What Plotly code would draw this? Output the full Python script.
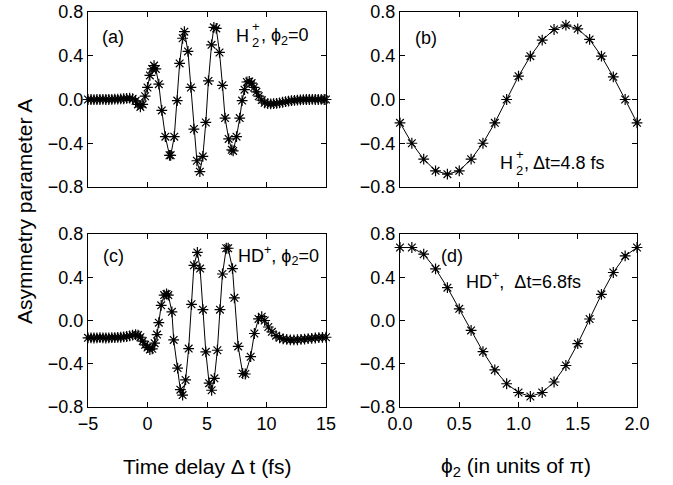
import plotly.graph_objects as go

# ---------------- data ----------------
# (a) H2+, phi2 = 0 : asymmetry vs time delay (fs)
a_t = [-5.0, -4.75, -4.5, -4.25, -4.0, -3.75, -3.5, -3.25, -3.0, -2.75, -2.5, -2.25, -2.0, -1.75, -1.5, -1.25, -1.0,
       -0.8, -0.6, -0.4, -0.2, 0.0, 0.2, 0.4, 0.55, 0.7, 0.95,
       1.2, 1.5, 1.85, 1.95, 2.25, 2.5, 2.7, 2.95, 3.1, 3.4,
       3.65, 3.9, 4.15, 4.4, 4.65, 4.9, 5.12, 5.38, 5.58, 5.78,
       6.05, 6.3, 6.52, 6.82, 7.08, 7.2, 7.48, 7.75, 7.95, 8.15,
       8.35, 8.55, 8.75, 8.95, 9.15, 9.35, 9.6, 9.85, 10.1, 10.35,
       10.6, 10.85, 11.1, 11.35, 11.6, 11.85, 12.1, 12.35, 12.6, 12.85,
       13.1, 13.35, 13.6, 13.85, 14.1, 14.35, 14.6, 14.85, 15.0]
a_A = [0.0, 0.0, -0.002, 0.0, 0.0, 0.002, 0.0, 0.0, 0.002, 0.003, 0.004, 0.005, 0.007, 0.01, 0.012, 0.008, -0.012,
       -0.045, -0.068, -0.045, 0.03, 0.11, 0.22, 0.28, 0.31, 0.28, 0.14,
       -0.10, -0.34, -0.51, -0.51, -0.34, -0.01, 0.33, 0.56, 0.62, 0.44,
       0.11, -0.27, -0.56, -0.66, -0.52, -0.21, 0.17, 0.50, 0.66, 0.65,
       0.43, 0.13, -0.17, -0.36, -0.46, -0.47, -0.34, -0.17, -0.01, 0.09,
       0.16, 0.165, 0.15, 0.11, 0.07, 0.03, -0.005, -0.03, -0.038, -0.04,
       -0.038, -0.035, -0.03, -0.025, -0.02, -0.015, -0.01, -0.008, -0.005, -0.003,
       -0.002, 0.0, 0.0, 0.002, 0.0, 0.0, 0.002, 0.0, 0.0]

# (c) HD+, phi2 = 0
c_t = [-5.0, -4.75, -4.5, -4.25, -4.0, -3.75, -3.5, -3.25, -3.0, -2.75, -2.5, -2.25, -2.0, -1.75, -1.5, -1.25, -1.0,
       -0.8, -0.6, -0.4, -0.2, 0.0, 0.2, 0.4, 0.6, 0.8,
       0.95, 1.15, 1.4, 1.6, 1.75, 2.05, 2.2, 2.53, 2.76, 2.95,
       3.2, 3.46, 3.7, 3.9, 4.19, 4.42, 4.66, 4.9, 5.18, 5.39,
       5.62, 5.87, 6.09, 6.3, 6.62, 6.78, 7.14, 7.3, 7.62, 8.0,
       8.22, 8.67, 8.98, 9.33, 9.6, 9.85, 10.15, 10.45, 10.8, 11.1,
       11.4, 11.7, 12.0, 12.3, 12.6, 12.9, 13.2, 13.5, 13.8, 14.1,
       14.4, 14.7, 15.0]
c_A = [-0.16, -0.16, -0.162, -0.16, -0.158, -0.16, -0.162, -0.16, -0.158, -0.158, -0.156, -0.155, -0.152, -0.148, -0.142, -0.135, -0.13,
       -0.135, -0.155, -0.19, -0.225, -0.25, -0.268, -0.262, -0.21, -0.13,
       -0.02, 0.14, 0.235, 0.245, 0.235, 0.08, -0.18, -0.44, -0.64, -0.69,
       -0.55, -0.26, 0.15, 0.51, 0.63, 0.48, 0.10, -0.29, -0.58, -0.645,
       -0.535, -0.275, 0.10, 0.43, 0.668, 0.668, 0.48, 0.21, -0.24, -0.49,
       -0.495, -0.335, -0.12, 0.015, 0.035, 0.0, -0.06, -0.105, -0.14, -0.16,
       -0.17, -0.175, -0.18, -0.18, -0.178, -0.175, -0.172, -0.168, -0.165, -0.162,
       -0.158, -0.156, -0.155]

# (b) H2+, dt = 4.8 fs and (d) HD+, dt = 6.8 fs : asymmetry vs phi2 (units of pi)
phi = [0.0, 0.1, 0.2, 0.3, 0.4, 0.5, 0.6, 0.7, 0.8, 0.9, 1.0,
       1.1, 1.2, 1.3, 1.4, 1.5, 1.6, 1.7, 1.8, 1.9, 2.0]
b_A = [-0.213, -0.40, -0.546, -0.652, -0.683, -0.652, -0.546, -0.40, -0.213, 0.0, 0.213,
       0.396, 0.543, 0.64, 0.68, 0.646, 0.549, 0.396, 0.207, 0.0, -0.213]
d_A = [0.675, 0.675, 0.613, 0.478, 0.304, 0.108, -0.092, -0.288, -0.457, -0.585, -0.666,
       -0.703, -0.666, -0.569, -0.416, -0.214, 0.014, 0.242, 0.444, 0.597, 0.675]

y_ticks = [-0.8, -0.4, 0.0, 0.4, 0.8]
t_ticks = [-5, 0, 5, 10, 15]
phi_ticks = [0.0, 0.5, 1.0, 1.5, 2.0]

assert len(a_t) == len(a_A) and len(c_t) == len(c_A)
assert len(phi) == len(b_A) == len(d_A)

# ---------------- figure ----------------
W, H = 673, 485
ML, MR, MT, MB = 88, 36, 12, 78
PW, PH = W - ML - MR, H - MT - MB
FONT = "Liberation Sans, Arial, sans-serif"
PHI = "\u03d5"


def px(x):
    return (x - ML) / PW


def py(y):
    return (H - MB - y) / PH


fig = go.Figure()


def add_series(x, y, xa, ya):
    fig.add_trace(go.Scatter(
        x=x, y=y, xaxis=xa, yaxis=ya, mode="lines+markers",
        line=dict(color="black", width=1),
        marker=dict(symbol="asterisk-open", size=9, color="black",
                    line=dict(color="black", width=1.2)),
        cliponaxis=False, showlegend=False, hoverinfo="skip"))


add_series(a_t, a_A, "x", "y")
add_series(phi, b_A, "x2", "y2")
add_series(c_t, c_A, "x3", "y3")
add_series(phi, d_A, "x4", "y4")

ax_common = dict(showline=True, linecolor="black", linewidth=1, mirror="allticks",
                 ticks="inside", ticklen=5, tickcolor="black", tickwidth=1,
                 showgrid=False, zeroline=False, automargin=False,
                 tickfont=dict(family=FONT, size=18, color="black"))

xa_dom = [0, px(326)]
xb_dom = [px(400), 1]
ytop_dom = [py(187), 1]
ybot_dom = [0, py(234)]

fig.update_layout(
    template="none",
    width=W, height=H, plot_bgcolor="white", paper_bgcolor="white",
    margin=dict(l=ML, r=MR, t=MT, b=MB, autoexpand=False),
    xaxis=dict(domain=xa_dom, anchor="y", range=[-5, 15], tickvals=t_ticks,
               showticklabels=False, **ax_common),
    yaxis=dict(domain=ytop_dom, anchor="x", range=[-0.8, 0.8], tickvals=y_ticks,
               tickformat=".1f", **ax_common),
    xaxis2=dict(domain=xb_dom, anchor="y2", range=[0, 2], tickvals=phi_ticks,
                showticklabels=False, **ax_common),
    yaxis2=dict(domain=ytop_dom, anchor="x2", range=[-0.8, 0.8], tickvals=y_ticks,
                tickformat=".1f", **ax_common),
    xaxis3=dict(domain=xa_dom, anchor="y3", range=[-5, 15], tickvals=t_ticks,
                **ax_common),
    yaxis3=dict(domain=ybot_dom, anchor="x3", range=[-0.8, 0.8], tickvals=y_ticks,
                tickformat=".1f", **ax_common),
    xaxis4=dict(domain=xb_dom, anchor="y4", range=[0, 2], tickvals=phi_ticks,
                tickformat=".1f", **ax_common),
    yaxis4=dict(domain=ybot_dom, anchor="x4", range=[-0.8, 0.8], tickvals=y_ticks,
                tickformat=".1f", **ax_common),
)


def ann(text, x, y, size=18, xanchor="center", yanchor="middle", angle=0):
    fig.add_annotation(text=text, x=px(x), y=py(y), xref="paper", yref="paper",
                       xanchor=xanchor, yanchor=yanchor, showarrow=False,
                       textangle=angle,
                       font=dict(family=FONT, size=size, color="black"))


# panel labels
ann("(a)", 113, 37)
ann("(b)", 426, 38)
ann("(c)", 113, 256)
ann("(d)", 452, 256)

# (a) H2+ , phi2=0 with stacked sub/superscript
ann("H", 234, 36, xanchor="left")
ann("+", 250, 27, size=13, xanchor="left")
ann("2", 250, 43, size=13, xanchor="left")
ann(", " + PHI + "<sub>2</sub>=0", 259, 36, xanchor="left")

# (b) H2+ , dt=4.8 fs
ann("H", 498, 163, xanchor="left")
ann("+", 514, 154, size=13, xanchor="left")
ann("2", 514, 170, size=13, xanchor="left")
ann(", Δt=4.8 fs", 522, 163, xanchor="left")

# (c), (d)
ann("HD<sup>+</sup>, " + PHI + "<sub>2</sub>=0", 236, 256, xanchor="left")
ann("HD<sup>+</sup>,  Δt=6.8fs", 464, 280, xanchor="left")

# axis titles
ann("Time delay Δ t (fs)", 207, 467, size=21)
ann(PHI + "<sub>2</sub> (in units of π)", 516, 467, size=21)
ann("Asymmetry parameter A", 24, 212, size=21, angle=-90)

fig.write_html("out.html",
               config={"displayModeBar": False, "staticPlot": True},
               post_script="document.body.style.margin='0';"
                           "document.body.style.padding='0';"
                           "document.body.style.overflow='hidden';")
